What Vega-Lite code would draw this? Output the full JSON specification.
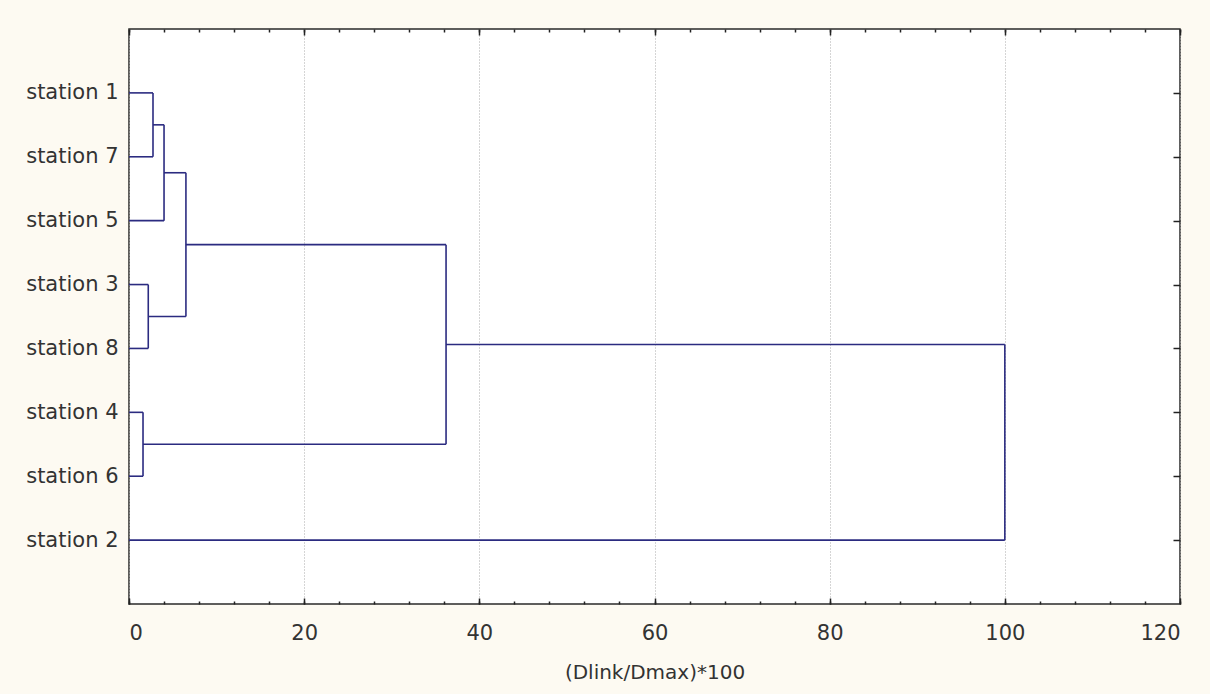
{
  "$schema": "https://vega.github.io/schema/vega-lite/v6.json",
  "width": 1051,
  "height": 575,
  "autosize": {"type": "none"},
  "padding": {"left": 129, "top": 29, "right": 30, "bottom": 90},
  "background": "#FDFAF2",
  "config": {
    "view": {"fill": "#FFFFFF", "stroke": "#2a2a2a", "strokeWidth": 1.5},
    "axis": {"labelFont": "DejaVu Sans", "titleFont": "DejaVu Sans", "labelColor": "#333333", "titleColor": "#333333", "labelFontSize": 21, "titleFontSize": 20, "titleFontWeight": "normal", "domain": false, "tickColor": "#222222", "tickWidth": 1.5}
  },
  "data": {
    "values": [
      {"x": 0, "x2": 2.74, "y": 1, "y2": 1},
      {"x": 0, "x2": 2.74, "y": 2, "y2": 2},
      {"x": 2.74, "x2": 2.74, "y": 1, "y2": 2},
      {"x": 2.74, "x2": 4.0, "y": 1.5, "y2": 1.5},
      {"x": 0, "x2": 4.0, "y": 3, "y2": 3},
      {"x": 4.0, "x2": 4.0, "y": 1.5, "y2": 3},
      {"x": 4.0, "x2": 6.5, "y": 2.25, "y2": 2.25},
      {"x": 0, "x2": 2.2, "y": 4, "y2": 4},
      {"x": 0, "x2": 2.2, "y": 5, "y2": 5},
      {"x": 2.2, "x2": 2.2, "y": 4, "y2": 5},
      {"x": 2.2, "x2": 6.5, "y": 4.5, "y2": 4.5},
      {"x": 6.5, "x2": 6.5, "y": 2.25, "y2": 4.5},
      {"x": 6.5, "x2": 36.2, "y": 3.375, "y2": 3.375},
      {"x": 0, "x2": 1.6, "y": 6, "y2": 6},
      {"x": 0, "x2": 1.6, "y": 7, "y2": 7},
      {"x": 1.6, "x2": 1.6, "y": 6, "y2": 7},
      {"x": 1.6, "x2": 36.2, "y": 6.5, "y2": 6.5},
      {"x": 36.2, "x2": 36.2, "y": 3.375, "y2": 6.5},
      {"x": 36.2, "x2": 100, "y": 4.9375, "y2": 4.9375},
      {"x": 0, "x2": 100, "y": 8, "y2": 8},
      {"x": 100, "x2": 100, "y": 4.9375, "y2": 8}
    ]
  },
  "resolve": {"axis": {"x": "independent", "y": "independent"}},
  "layer": [
    {
      "mark": {"type": "rule", "opacity": 0},
      "encoding": {
        "x": {"field": "x", "type": "quantitative", "scale": {"domain": [0, 120], "nice": false, "zero": false},
          "axis": {"orient": "bottom", "values": [0,4,8,12,16,20,24,28,32,36,40,44,48,52,56,60,64,68,72,76,80,84,88,92,96,100,104,108,112,116,120], "labels": false, "grid": false, "tickSize": -3, "title": null}},
        "y": {"field": "y", "type": "quantitative", "scale": {"domain": [9, 0], "nice": false, "zero": false},
          "axis": {"orient": "right", "values": [1,2,3,4,5,6,7,8], "labels": false, "grid": false, "tickSize": -7, "title": null}}
      }
    },
    {
      "mark": {"type": "rule", "opacity": 0},
      "encoding": {
        "x": {"field": "x", "type": "quantitative",
          "axis": {"orient": "top", "values": [0,4,8,12,16,20,24,28,32,36,40,44,48,52,56,60,64,68,72,76,80,84,88,92,96,100,104,108,112,116,120], "labels": false, "grid": false, "tickSize": -3, "title": null}},
        "y": {"field": "y", "type": "quantitative", "axis": null}
      }
    },
    {
      "mark": {"type": "rule", "opacity": 0},
      "encoding": {
        "x": {"field": "x", "type": "quantitative",
          "axis": {"orient": "top", "values": [0,20,40,60,80,100,120], "labels": false, "grid": false, "tickSize": -6, "title": null}},
        "y": {"field": "y", "type": "quantitative", "axis": null}
      }
    },
    {
      "mark": {"type": "rule", "color": "#2b2b80", "strokeWidth": 1.6},
      "encoding": {
        "x": {"field": "x", "type": "quantitative",
          "axis": {"orient": "bottom", "values": [0,20,40,60,80,100,120], "grid": true, "gridColor": "#aaaaaa", "gridDash": [1, 2], "gridWidth": 1, "tickSize": -6, "labelPadding": 24, "title": "(Dlink/Dmax)*100", "titlePadding": 19}},
        "x2": {"field": "x2"},
        "y": {"field": "y", "type": "quantitative",
          "axis": {"orient": "left", "values": [1,2,3,4,5,6,7,8], "ticks": false, "grid": false, "labelPadding": 11, "title": null,
            "labelExpr": "['', 'station 1', 'station 7', 'station 5', 'station 3', 'station 8', 'station 4', 'station 6', 'station 2'][datum.value]"}},
        "y2": {"field": "y2"}
      }
    }
  ]
}
